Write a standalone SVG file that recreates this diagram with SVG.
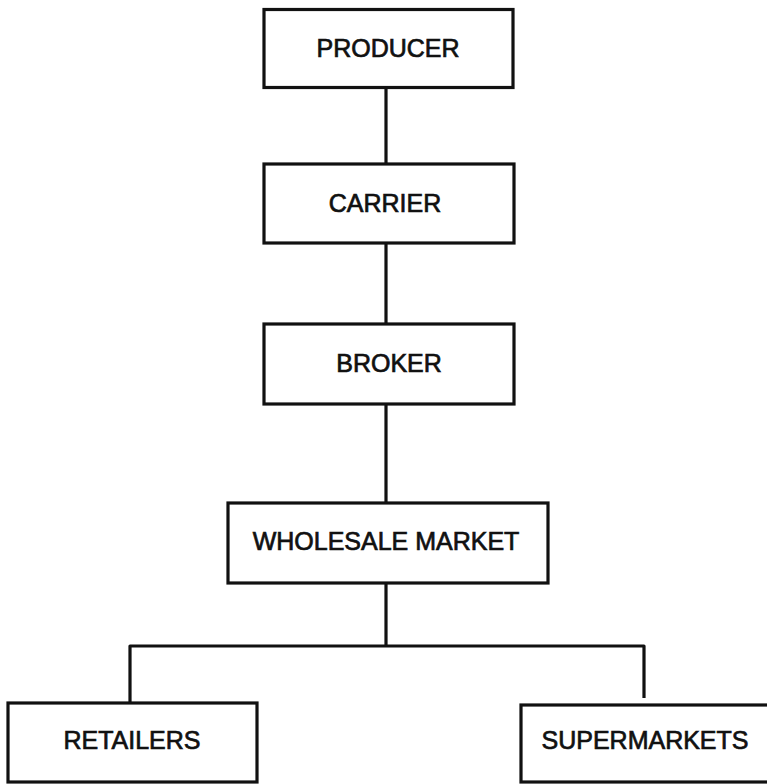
<svg xmlns="http://www.w3.org/2000/svg" width="767" height="784" viewBox="0 0 767 784">
  <style>
    .box { fill: #ffffff; stroke: #111111; stroke-width: 3.2; }
    .link { fill: none; stroke: #111111; stroke-width: 3.2; stroke-linejoin: round; }
    .label { font-family: "Liberation Sans", Arial, sans-serif; font-size: 25px; fill: #111111; stroke: #111111; stroke-width: 0.7; text-anchor: middle; }
  </style>
  <rect width="767" height="784" fill="#ffffff"/>

  <!-- connectors -->
  <g id="connectors">
    <line class="link" x1="386" y1="88" x2="386" y2="163"/>
    <line class="link" x1="386" y1="243" x2="386" y2="323"/>
    <line class="link" x1="386" y1="404" x2="386" y2="502"/>
    <line class="link" x1="386" y1="583" x2="386" y2="646"/>
    <path class="link" d="M130,702 V646 H644 V698"/>
  </g>

  <g id="producer">
    <rect class="box" x="264" y="9.5" width="249" height="78"/>
    <text class="label" x="388" y="57">PRODUCER</text>
  </g>

  <g id="carrier">
    <rect class="box" x="264" y="164" width="250" height="79"/>
    <text class="label" x="385" y="212">CARRIER</text>
  </g>

  <g id="broker">
    <rect class="box" x="264" y="324" width="250" height="80"/>
    <text class="label" x="389" y="372">BROKER</text>
  </g>

  <g id="wholesale-market">
    <rect class="box" x="228" y="503" width="320" height="80"/>
    <text class="label" x="386" y="550">WHOLESALE MARKET</text>
  </g>

  <g id="retailers">
    <rect class="box" x="8" y="703" width="249" height="79"/>
    <text class="label" x="132" y="749">RETAILERS</text>
  </g>

  <g id="supermarkets">
    <rect class="box" x="521" y="705" width="280" height="77"/>
    <text class="label" x="645" y="749">SUPERMARKETS</text>
  </g>
</svg>
